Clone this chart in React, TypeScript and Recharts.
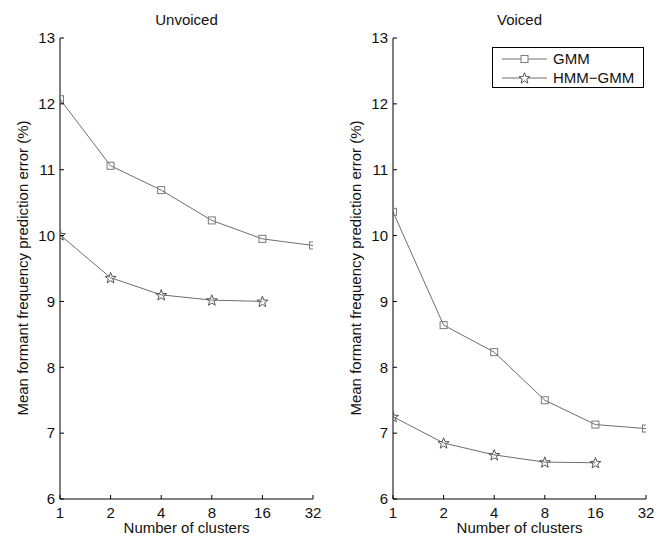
import React from 'react';
import { LineChart, Line, XAxis, YAxis, Legend } from 'recharts';

const clusters = [1, 2, 4, 8, 16, 32];
const unvoicedGMM = [12.07, 11.06, 10.69, 10.23, 9.95, 9.85];
const unvoicedHMM = [10.01, 9.36, 9.1, 9.02, 9.0, null];
const voicedGMM = [10.36, 8.64, 8.23, 7.5, 7.13, 7.07];
const voicedHMM = [7.25, 6.85, 6.67, 6.56, 6.55, null];
const yTicks = [6, 7, 8, 9, 10, 11, 12, 13];
const seriesNames = ['GMM', 'HMM\u2212GMM'];
const titles = ['Unvoiced', 'Voiced'];
const xLabel = 'Number of clusters';
const yLabel = 'Mean formant frequency prediction error (%)';

const FONT = 'Liberation Sans, Arial, Helvetica, sans-serif';
const FS = 15;
const LINE = '#6e6e6e';
const MARK = '#7a7a7a';
const TM = 8; // bottom tick margin
const LM = 5; // left tick margin
const TICK = 4;

const build = (g: (number | null)[], h: (number | null)[]) =>
  clusters.map((c, i) => ({ c, gmm: g[i], hmm: h[i] }));

const BottomTick = (props: any) => {
  const { x, y, payload } = props;
  const y0 = y - TM;
  return (
    <g>
      <line x1={x} x2={x} y1={y0} y2={y0 - TICK} stroke="#000" strokeWidth={1} />
      <text x={x} y={y} dy="0.71em" textAnchor="middle" fontFamily={FONT} fontSize={FS} fill="#111">
        {payload.value}
      </text>
    </g>
  );
};

const LeftTick = (props: any) => {
  const { x, y, payload } = props;
  const x0 = x + LM;
  return (
    <g>
      <line x1={x0} x2={x0 + TICK} y1={y} y2={y} stroke="#000" strokeWidth={1} />
      <text x={x} y={y} dy="0.355em" textAnchor="end" fontFamily={FONT} fontSize={FS} fill="#111">
        {payload.value}
      </text>
    </g>
  );
};

const SquareDot = (props: any) => {
  const { cx, cy, value } = props;
  if (cx == null || cy == null || value == null) return <g />;
  return <rect x={cx - 3.5} y={cy - 3.5} width={7} height={7} fill="none" stroke={MARK} strokeWidth={1} />;
};

const starPath = (cx: number, cy: number, R: number, r: number) => {
  const pts: string[] = [];
  for (let i = 0; i < 10; i++) {
    const rad = i % 2 === 0 ? R : r;
    const a = -Math.PI / 2 + (i * Math.PI) / 5;
    pts.push(`${(cx + rad * Math.cos(a)).toFixed(2)},${(cy + rad * Math.sin(a)).toFixed(2)}`);
  }
  return 'M' + pts.join('L') + 'Z';
};

const StarDot = (props: any) => {
  const { cx, cy, value } = props;
  if (cx == null || cy == null || value == null) return <g />;
  return <path d={starPath(cx, cy + 0.5, 5.8, 2.4)} fill="none" stroke="#555" strokeWidth={1} />;
};

const LegendBox = () => (
  <div
    style={{
      width: 150,
      height: 39,
      border: '1px solid #000',
      background: '#fff',
      boxSizing: 'content-box',
      fontFamily: FONT,
      fontSize: FS,
      color: '#111',
      position: 'relative',
    }}
  >
    {seriesNames.map((n, i) => (
      <div key={n} style={{ position: 'absolute', left: 0, top: i === 0 ? 2 : 21, height: 18, width: 150, display: 'flex', alignItems: 'center' }}>
        <svg width={60} height={18} style={{ display: 'block' }}>
          <line x1={9} x2={54} y1={9} y2={9} stroke={LINE} strokeWidth={1} />
          {i === 0 ? (
            <rect x={28} y={5.5} width={7} height={7} fill="#fff" stroke={MARK} strokeWidth={1} />
          ) : (
            <path d={starPath(31.5, 9.5, 5.8, 2.4)} fill="#fff" stroke="#555" strokeWidth={1} />
          )}
        </svg>
        <span style={{ lineHeight: '18px' }}>{n}</span>
      </div>
    ))}
  </div>
);

const Panel = ({ data, withLegend }: { data: any[]; withLegend: boolean }) => (
  <LineChart width={333} height={537} data={data} margin={{ top: 38, right: 20, bottom: 0, left: 0 }}>
    <XAxis
      xAxisId="b"
      dataKey="c"
      type="number"
      scale="log"
      domain={[1, 32]}
      ticks={clusters}
      allowDataOverflow
      height={38}
      tickSize={0}
      tickMargin={TM}
      tick={<BottomTick />}
      axisLine={{ stroke: '#000', strokeWidth: 1 }}
      interval={0}
    />
    <XAxis
      xAxisId="t"
      dataKey="c"
      type="number"
      scale="log"
      domain={[1, 32]}
      ticks={clusters}
      allowDataOverflow
      orientation="top"
      mirror
      height={0}
      tick={false}
      tickSize={TICK}
      tickLine={{ stroke: '#000' }}
      axisLine={{ stroke: '#000', strokeWidth: 1 }}
      interval={0}
    />
    <YAxis
      yAxisId="l"
      type="number"
      domain={[6, 13]}
      ticks={yTicks}
      width={60}
      tickSize={0}
      tickMargin={LM}
      tick={<LeftTick />}
      axisLine={{ stroke: '#000', strokeWidth: 1 }}
      interval={0}
    />
    <YAxis
      yAxisId="r"
      type="number"
      domain={[6, 13]}
      ticks={yTicks}
      orientation="right"
      mirror
      width={0}
      tick={false}
      tickSize={TICK}
      tickLine={{ stroke: '#000' }}
      axisLine={{ stroke: '#000', strokeWidth: 1 }}
      interval={0}
    />
    <Line
      xAxisId="b"
      yAxisId="l"
      dataKey="gmm"
      name={seriesNames[0]}
      stroke={LINE}
      strokeWidth={1}
      dot={<SquareDot />}
      activeDot={false}
      isAnimationActive={false}
    />
    <Line
      xAxisId="b"
      yAxisId="l"
      dataKey="hmm"
      name={seriesNames[1]}
      stroke={LINE}
      strokeWidth={1}
      dot={<StarDot />}
      activeDot={false}
      isAnimationActive={false}
    />
    {withLegend && (
      <Legend
        layout="vertical"
        align="center"
        verticalAlign="middle"
        content={() => <LegendBox />}
        wrapperStyle={{ position: 'absolute', left: 159, top: 47, width: 152, height: 41 }}
      />
    )}
  </LineChart>
);

const Labels = ({ offset, title }: { offset: number; title: string }) => (
  <svg width={333} height={537} style={{ position: 'absolute', left: offset, top: 0, pointerEvents: 'none' }}>
    <text x={186.5} y={20} dy="0.355em" textAnchor="middle" fontFamily={FONT} fontSize={FS} fill="#111">
      {title}
    </text>
    <text x={186.5} y={528} dy="0.355em" textAnchor="middle" fontFamily={FONT} fontSize={FS} fill="#111">
      {xLabel}
    </text>
    <text
      x={0}
      y={0}
      dy="0.355em"
      textAnchor="middle"
      fontFamily={FONT}
      fontSize={FS}
      fill="#111"
      transform={`translate(23,268) rotate(-90)`}
    >
      {yLabel}
    </text>
  </svg>
);

export default function App() {
  const unvoiced = build(unvoicedGMM, unvoicedHMM);
  const voiced = build(voicedGMM, voicedHMM);
  return (
    <div style={{ position: 'absolute', left: 0, top: 0, width: 667, height: 537, background: '#fff' }}>
      <div style={{ position: 'absolute', left: 0, top: 0 }}>
        <Panel data={unvoiced} withLegend={false} />
      </div>
      <div style={{ position: 'absolute', left: 333, top: 0 }}>
        <Panel data={voiced} withLegend={true} />
      </div>
      <Labels offset={0} title={titles[0]} />
      <Labels offset={333} title={titles[1]} />
    </div>
  );
}
